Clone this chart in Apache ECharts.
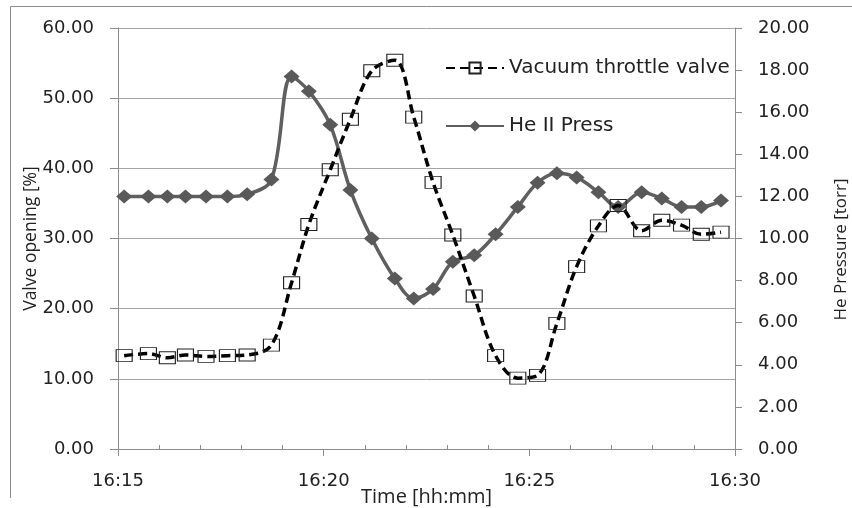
<!DOCTYPE html>
<html>
<head>
<meta charset="utf-8">
<script src="https://cdn.jsdelivr.net/npm/echarts@6/dist/echarts.min.js"></script>
<style>
  html, body { margin: 0; padding: 0; background: #fff; }
  #chart { width: 852px; height: 508px; }
</style>
</head>
<body>
<div id="chart"></div>
<script>
// sample times in minutes after 16:00
const times = [15.15, 15.74, 16.20, 16.64, 17.14, 17.66, 18.14, 18.73, 19.22, 19.64,
  20.16, 20.65, 21.17, 21.73, 22.19, 22.66, 23.14, 23.66, 24.18, 24.72,
  25.20, 25.67, 26.15, 26.68, 27.16, 27.73, 28.22, 28.70, 29.18, 29.66];
// Vacuum throttle valve opening [%]
const valveOpening = [13.3, 13.6, 13.0, 13.4, 13.2, 13.3, 13.4, 14.8, 23.7, 32.0,
  39.8, 47.0, 53.9, 55.4, 47.3, 38.0, 30.5, 21.8, 13.3, 10.1,
  10.5, 17.9, 26.0, 31.8, 34.7, 31.1, 32.6, 31.9, 30.6, 30.9];
// He II pressure [torr]
const hePressure = [12.0, 12.0, 12.0, 12.0, 12.0, 12.0, 12.1, 12.8, 17.7, 17.0,
  15.4, 12.3, 10.0, 8.1, 7.15, 7.6, 8.9, 9.2, 10.2, 11.5,
  12.65, 13.1, 12.9, 12.2, 11.5, 12.2, 11.9, 11.5, 11.5, 11.8];
const timeTicks = ['16:15', '16:20', '16:25', '16:30'];

const pair = (ys) => times.map((t, i) => [t, ys[i]]);

const chart = echarts.init(document.getElementById('chart'));
const tickFont = { fontFamily: 'DejaVu Sans', fontSize: 18, color: '#222' };
const titleFont = { fontFamily: 'Open Sans', color: '#222' };

chart.setOption({
  animation: false,
  backgroundColor: '#fff',
  grid: { left: 118, right: 117, top: 28, bottom: 59, outerBoundsMode: 'none', containLabel: false },
  graphic: [
    { type: 'line', shape: { x1: 10.5, y1: 6.5, x2: 852, y2: 6.5 }, style: { stroke: '#8c8c8c', lineWidth: 1 } },
    { type: 'line', shape: { x1: 10.5, y1: 6.5, x2: 10.5, y2: 498 }, style: { stroke: '#8c8c8c', lineWidth: 1 } }
  ],
  legend: {
    orient: 'vertical',
    left: 440,
    top: 52,
    itemWidth: 58,
    itemHeight: 14,
    itemGap: 36,
    textStyle: { fontFamily: 'DejaVu Sans', fontSize: 20, color: '#222', lineHeight: 22 },
    data: ['Vacuum throttle valve', 'He II Press']
  },
  xAxis: {
    type: 'value',
    min: 15,
    max: 30,
    interval: 5,
    name: 'Time [hh:mm]',
    nameLocation: 'middle',
    nameMoveOverlap: false,
    nameGap: 38,
    nameTextStyle: Object.assign({ fontSize: 20 }, titleFont),
    axisLine: { lineStyle: { color: '#8c8c8c' } },
    axisTick: { length: 7, lineStyle: { color: '#8c8c8c' } },
    minorTick: { show: true, splitNumber: 5, length: -4, lineStyle: { color: '#8c8c8c' } },
    splitLine: { show: false },
    axisLabel: Object.assign({
      margin: 23,
      formatter: (v) => timeTicks[Math.round((v - 15) / 5)]
    }, tickFont)
  },
  yAxis: [
    {
      type: 'value',
      min: 0,
      max: 60,
      interval: 10,
      name: 'Valve opening [%]',
      nameLocation: 'middle',
      nameMoveOverlap: false,
      nameRotate: 90,
      nameGap: 78,
      nameTextStyle: Object.assign({ fontSize: 17.5 }, titleFont),
      axisLine: { show: true, lineStyle: { color: '#8c8c8c' } },
      axisTick: { show: true, length: 8, lineStyle: { color: '#8c8c8c' } },
      splitLine: { lineStyle: { color: '#a6a6a6' } },
      axisLabel: Object.assign({ margin: 24, formatter: (v) => v.toFixed(2) }, tickFont)
    },
    {
      type: 'value',
      min: 0,
      max: 20,
      interval: 2,
      name: 'He Pressure [torr]',
      nameLocation: 'middle',
      nameMoveOverlap: false,
      nameRotate: 90,
      nameGap: 98,
      nameTextStyle: Object.assign({ fontSize: 17, padding: [0, 22, 0, 0] }, titleFont),
      axisLine: { show: true, lineStyle: { color: '#8c8c8c' } },
      axisTick: { show: true, length: 7, lineStyle: { color: '#8c8c8c' } },
      splitLine: { show: false },
      axisLabel: Object.assign({ margin: 23, formatter: (v) => v.toFixed(2) }, tickFont)
    }
  ],
  series: [
    {
      name: 'Vacuum throttle valve',
      type: 'line',
      yAxisIndex: 0,
      smooth: 0.35,
      z: 3,
      data: pair(valveOpening),
      symbol: 'rect',
      symbolSize: [16, 12],
      lineStyle: { color: '#000', width: 3.5, type: [9, 5] },
      itemStyle: { color: 'rgba(255,255,255,0)', borderColor: '#222', borderWidth: 1 }
    },
    {
      name: 'He II Press',
      type: 'line',
      yAxisIndex: 1,
      smooth: 0.35,
      z: 2,
      data: pair(hePressure),
      symbol: 'diamond',
      symbolSize: [16, 14],
      lineStyle: { color: '#5f5f5f', width: 3.5 },
      itemStyle: { color: '#595959', borderWidth: 0 }
    }
  ]
});
</script>
</body>
</html>
